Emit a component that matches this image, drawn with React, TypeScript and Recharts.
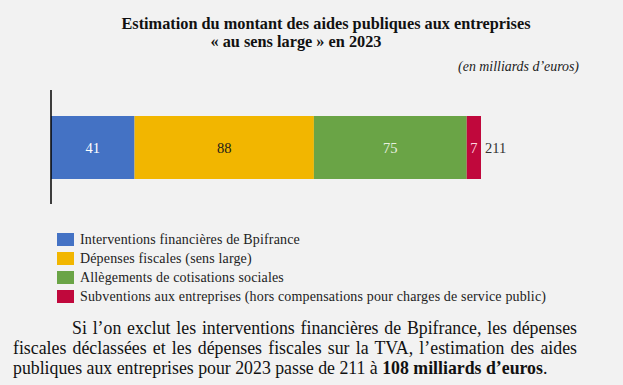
import { BarChart, Bar, XAxis, YAxis, LabelList, ReferenceLine } from 'recharts'

const categories = ['2023']
const seriesNames = [
  'Interventions financières de Bpifrance',
  'Dépenses fiscales (sens large)',
  'Allègements de cotisations sociales',
  'Subventions aux entreprises (hors compensations pour charges de service public)',
]
const seriesKeys = ['bpi', 'fiscales', 'cotisations', 'subventions']
const seriesValues = [41, 88, 75, 7]
const seriesColors = ['#4472c4', '#f2b600', '#6aa446', '#c0083c']
const labelColors = ['#ffffff', '#1a1a1a', '#e8f0e0', '#ffd6e0']
const total = seriesValues.reduce((a, b) => a + b, 0)

const serif = '"Liberation Serif", "Times New Roman", serif'

const chartData = categories.map(cat => {
  const row: Record<string, string | number> = { cat }
  seriesKeys.forEach((k, i) => {
    row[k] = seriesValues[i]
  })
  return row
})

const TotalLabel = (props: any) => {
  const { x, y, width, height } = props
  return (
    <text
      x={Number(x) + Number(width) + 4}
      y={Number(y) + Number(height) / 2}
      dy={5}
      fill="#333"
      fontSize={14.5}
      fontFamily={serif}
    >
      {total}
    </text>
  )
}

export default function App() {
  return (
    <div
      style={{
        position: 'absolute',
        left: 0,
        top: 0,
        width: 623,
        height: 385,
        background: '#f2f2f2',
        fontFamily: serif,
        color: '#111',
        overflow: 'hidden',
      }}
    >
      {/* title, centred by hand like the original */}
      <div style={{ position: 'absolute', left: 0, top: 14, width: 652, textAlign: 'center', fontWeight: 'bold', fontSize: 16.3, lineHeight: '19px', whiteSpace: 'nowrap' }}>
        Estimation du montant des aides publiques aux entreprises
      </div>
      <div style={{ position: 'absolute', left: 0, top: 32, width: 592, textAlign: 'center', fontWeight: 'bold', fontSize: 16.3, lineHeight: '19px', whiteSpace: 'nowrap' }}>
        « au sens large » en 2023
      </div>
      <div style={{ position: 'absolute', right: 44, top: 58, fontStyle: 'italic', fontSize: 13.9, lineHeight: '18px', color: '#222' }}>
        (en milliards d’euros)
      </div>

      <BarChart
        width={623}
        height={385}
        data={chartData}
        layout="vertical"
        margin={{ top: 90, right: 142, bottom: 181, left: 51 }}
        style={{ position: 'absolute', left: 0, top: 0 }}
      >
        <XAxis type="number" domain={[0, total]} hide />
        <YAxis type="category" dataKey="cat" width={0} hide />
        {seriesKeys.map((k, i) => (
          <Bar
            key={k}
            dataKey={k}
            name={seriesNames[i]}
            stackId="a"
            fill={seriesColors[i]}
            barSize={63}
            isAnimationActive={false}
          >
            <LabelList dataKey={k} position="center" fill={labelColors[i]} fontSize={14.5} fontFamily={serif} />
            {i === seriesKeys.length - 1 && <LabelList dataKey={k} content={<TotalLabel />} />}
          </Bar>
        ))}
        {/* vertical axis line at zero */}
        <ReferenceLine x={0} stroke="#000" strokeWidth={1.5} />
      </BarChart>

      {/* legend */}
      <div style={{ position: 'absolute', left: 57, top: 230, fontSize: 14, letterSpacing: 0.15, color: '#222' }}>
        {seriesNames.map((name, i) => (
          <div key={name} style={{ display: 'flex', alignItems: 'center', height: 19 }}>
            <span style={{ width: 17, height: 13, background: seriesColors[i], marginRight: 6, display: 'inline-block', flex: 'none' }} />
            <span style={{ whiteSpace: 'nowrap' }}>{name}</span>
          </div>
        ))}
      </div>

      <div style={{ position: 'absolute', left: 13, top: 318, width: 564, fontSize: 17.8, lineHeight: '20px', color: '#111' }}>
        <div style={{ textAlign: 'justify', textAlignLast: 'justify', paddingLeft: 59 }}>
          Si l’on exclut les interventions financières de Bpifrance, les dépenses
        </div>
        <div style={{ textAlign: 'justify', textAlignLast: 'justify' }}>
          fiscales déclassées et les dépenses fiscales sur la TVA, l’estimation des aides
        </div>
        <div style={{ whiteSpace: 'nowrap' }}>
          publiques aux entreprises pour 2023 passe de 211 à <b>108 milliards d’euros</b>.
        </div>
      </div>
    </div>
  )
}
